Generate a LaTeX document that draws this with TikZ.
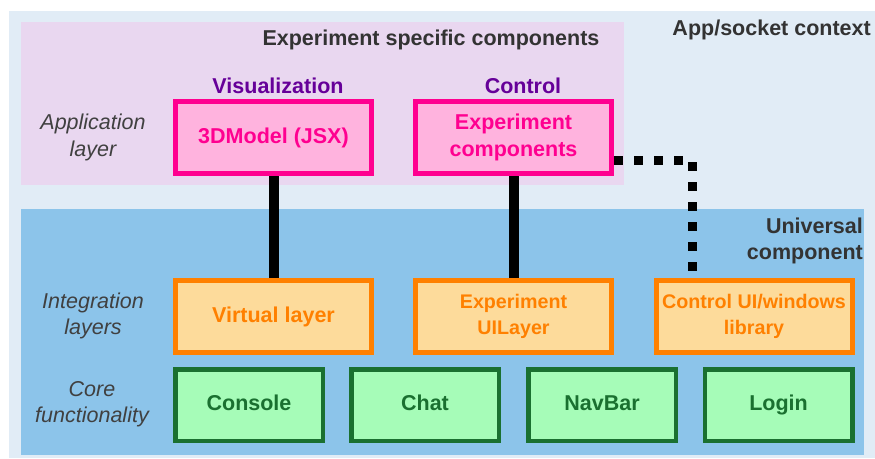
\documentclass[tikz,border=0pt]{standalone}
\usepackage{fontspec}
\setmainfont{Liberation Sans}
\definecolor{outerbg}{RGB}{225,236,246}
\definecolor{purplebg}{RGB}{233,215,240}
\definecolor{bluebg}{RGB}{140,196,234}
\definecolor{pinkline}{RGB}{255,0,144}
\definecolor{pinkfill}{RGB}{255,179,222}
\definecolor{orangeline}{RGB}{255,128,0}
\definecolor{orangefill}{RGB}{253,219,155}
\definecolor{greenline}{RGB}{26,112,48}
\definecolor{greenfill}{RGB}{166,252,184}
\definecolor{catpurple}{RGB}{102,0,153}
\definecolor{headgray}{RGB}{51,51,51}
\definecolor{sidegray}{RGB}{64,64,64}
\tikzset{
  box/.style={rectangle, draw, line width=5pt, minimum width=196pt, minimum height=72pt,
    align=center, font=\bfseries\fontsize{21.5}{26.5}\selectfont, inner sep=2pt},
  smalltext/.style={font=\bfseries\fontsize{19.7}{26}\selectfont},
  pinkbox/.style={box, draw=pinkline, fill=pinkfill, text=pinkline},
  orangebox/.style={box, draw=orangeline, fill=orangefill, text=orangeline},
  greenbox/.style={box, line width=4.5pt, minimum width=147.5pt, minimum height=71.5pt,
    draw=greenline, fill=greenfill, text=greenline, text height=15.5pt, text depth=4.5pt},
  side/.style={font=\itshape\fontsize{21.5}{26.5}\selectfont, text=sidegray, align=center},
  head/.style={font=\bfseries\fontsize{21.5}{26.5}\selectfont, text=headgray},
  cat/.style={font=\bfseries\fontsize{21.5}{26.5}\selectfont, text=catpurple},
  solidlink/.style={line width=10pt, black},
  dotlink/.style={line width=9pt, black, dash pattern=on 9pt off 11pt},
}
\begin{document}
\begin{tikzpicture}[x=1pt,y=-1pt]
\useasboundingbox (0,0) rectangle (875,458);
% regions
\fill[outerbg] (9,11) rectangle (875,458);
\fill[purplebg] (21,22) rectangle (624,185);
\fill[bluebg] (21,209) rectangle (864,455);
% headings
\node[head, anchor=base] (hexp) at (431,45) {Experiment specific components};
\node[head, anchor=base east, inner sep=0pt] (happ) at (871,35) {App/socket context};
\node[cat, anchor=base] (cvis) at (278,93) {Visualization};
\node[cat, anchor=base] (cctl) at (523,93) {Control};
\node[head, anchor=east, align=right, inner sep=0pt] (huni) at (863,241) {Universal\\component};
% side labels
\node[side] (sapp) at (93,137.5) {Application\\layer};
\node[side] (sint) at (93,316) {Integration\\layers};
\node[side] (score) at (92,404) {Core\\functionality};
% boxes
\node[pinkbox] (m3d) at (273.5,137.5) {3DModel (JSX)};
\node[pinkbox] (ec) at (513.5,137.5) {Experiment\\components};
\node[orangebox] (vl) at (273.5,316.5) {Virtual layer};
\node[orangebox, smalltext] (ui) at (513.5,316.5) {Experiment\\UILayer};
\node[orangebox, smalltext] (cu) at (754,316.5) {Control UI/windows\\library};
\node[greenbox] (con) at (249,405) {Console};
\node[greenbox] (chat) at (425,405) {Chat};
\node[greenbox] (nav) at (602,405) {NavBar};
\node[greenbox] (login) at (778.5,405) {Login};
% connectors
\draw[solidlink] (m3d.south) -- (vl.north);
\draw[solidlink] (ec.south) -- (ui.north);
\coordinate (bend) at (692,160);
\draw[dotlink] (ec.east |- bend) -- (bend) -- (bend |- cu.north);
\end{tikzpicture}
\end{document}
